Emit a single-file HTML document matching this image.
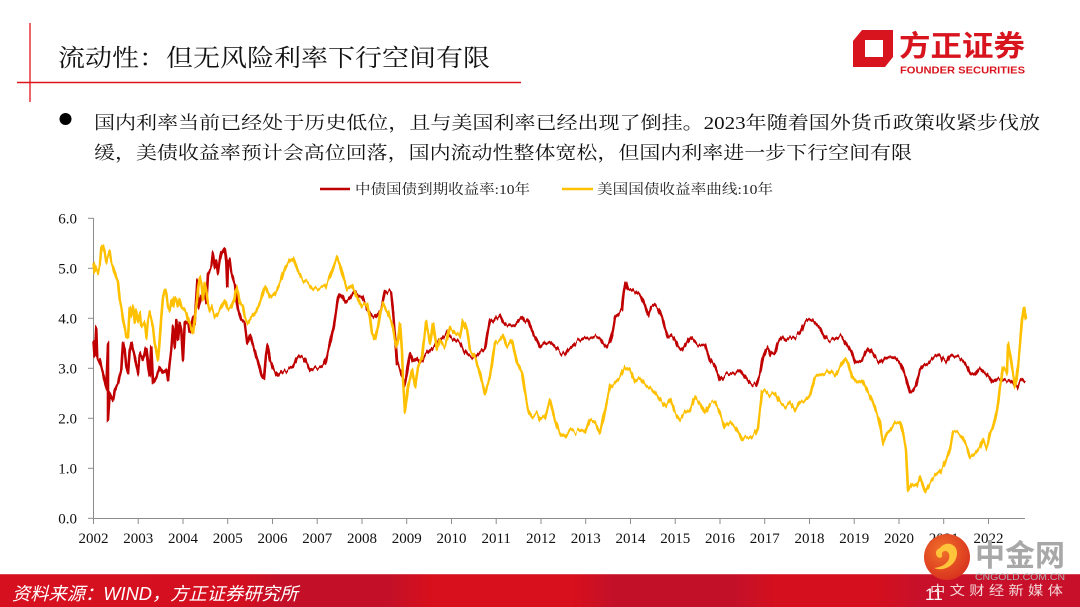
<!DOCTYPE html>
<html><head><meta charset="utf-8">
<style>
html,body{margin:0;padding:0;background:#fff;}
body{width:1080px;height:607px;overflow:hidden;}
svg{display:block;}
.cjk{font-family:"Liberation Serif","Noto Serif CJK SC","Noto Sans CJK SC",serif;}
.num{font-family:"Liberation Serif",serif;}
.sans{font-family:"Liberation Sans","Noto Sans CJK SC",sans-serif;}
</style></head>
<body>
<svg width="1080" height="607" viewBox="0 0 1080 607" xmlns="http://www.w3.org/2000/svg">
<defs>
<linearGradient id="foot" x1="0" y1="0" x2="1080" y2="0" gradientUnits="userSpaceOnUse">
<stop offset="0" stop-color="#d6101f"/>
<stop offset="0.22" stop-color="#d40f1f"/>
<stop offset="0.26" stop-color="#c31028"/>
<stop offset="0.36" stop-color="#c31028"/>
<stop offset="0.40" stop-color="#d80f1c"/>
<stop offset="0.53" stop-color="#d80f1c"/>
<stop offset="0.57" stop-color="#c21029"/>
<stop offset="0.68" stop-color="#c31029"/>
<stop offset="0.72" stop-color="#d50f1d"/>
<stop offset="0.81" stop-color="#d50f1d"/>
<stop offset="0.85" stop-color="#c8102a"/>
<stop offset="1" stop-color="#c8102a"/>
</linearGradient>
<radialGradient id="cg" cx="0.4" cy="0.35" r="0.7">
<stop offset="0" stop-color="#f0702a"/>
<stop offset="1" stop-color="#d8301e"/>
</radialGradient>
<filter id="jit" filterUnits="userSpaceOnUse" x="85" y="200" width="950" height="320" color-interpolation-filters="sRGB">
<feTurbulence type="fractalNoise" baseFrequency="0.35 0.003" numOctaves="2" seed="7" result="t"/>
<feColorMatrix in="t" type="matrix" values="0 0 0 0 0.5  0 1 0 0 0  0 0 0 0 0.5  0 0 0 0 1" result="m"/>
<feDisplacementMap in="SourceGraphic" in2="m" scale="9" xChannelSelector="R" yChannelSelector="G"/>
</filter>
</defs>

<!-- header lines -->
<line x1="30" y1="23" x2="30" y2="102" stroke="#e5333b" stroke-width="1.5"/>
<line x1="17" y1="82.5" x2="521" y2="82.5" stroke="#e0141e" stroke-width="1.5"/>
<text class="cjk" x="58" y="66" font-size="24" fill="#111" textLength="432" lengthAdjust="spacingAndGlyphs">流动性：但无风险利率下行空间有限</text>

<!-- logo -->
<path fill="#d8141e" fill-rule="evenodd" d="M862,30 L893,30 L893,57 L885,67 L853,67 L853,41 Z M865,40 L883,40 L883,57 L865,57 Z"/>
<text class="sans" x="899" y="56" font-size="29" font-weight="bold" fill="#d8141e" textLength="126" lengthAdjust="spacingAndGlyphs">方正证券</text>
<text class="sans" x="900" y="73.5" font-size="10.5" font-weight="bold" fill="#d8141e" textLength="125" lengthAdjust="spacingAndGlyphs">FOUNDER SECURITIES</text>

<!-- bullet text -->
<circle cx="65.5" cy="119" r="6" fill="#000"/>
<text class="cjk" x="94" y="129" font-size="18" fill="#111" textLength="946" lengthAdjust="spacingAndGlyphs">国内利率当前已经处于历史低位，且与美国利率已经出现了倒挂。2023年随着国外货币政策收紧步伐放</text>
<text class="cjk" x="94" y="159" font-size="18" fill="#111" textLength="818" lengthAdjust="spacingAndGlyphs">缓，美债收益率预计会高位回落，国内流动性整体宽松，但国内利率进一步下行空间有限</text>

<!-- legend -->
<line x1="320" y1="189" x2="350" y2="189" stroke="#c00000" stroke-width="2.5"/>
<text class="cjk" x="355" y="194" font-size="14" fill="#222" textLength="175" lengthAdjust="spacingAndGlyphs">中债国债到期收益率:10年</text>
<line x1="562" y1="189" x2="593" y2="189" stroke="#ffc000" stroke-width="2.5"/>
<text class="cjk" x="597" y="194" font-size="14" fill="#222" textLength="176" lengthAdjust="spacingAndGlyphs">美国国债收益率曲线:10年</text>

<!-- axes -->
<g stroke="#8c8c8c" stroke-width="1" fill="none">
<line x1="93.5" y1="218" x2="93.5" y2="518.5"/>
<line x1="93.5" y1="518.5" x2="1025" y2="518.5"/>
<line x1="88" y1="218.3" x2="93.5" y2="218.3"/>
<line x1="88" y1="268.3" x2="93.5" y2="268.3"/>
<line x1="88" y1="318.3" x2="93.5" y2="318.3"/>
<line x1="88" y1="368.3" x2="93.5" y2="368.3"/>
<line x1="88" y1="418.3" x2="93.5" y2="418.3"/>
<line x1="88" y1="468.3" x2="93.5" y2="468.3"/>
<line x1="88" y1="518.3" x2="93.5" y2="518.3"/>
<line x1="93.5" y1="518.5" x2="93.5" y2="524"/>
<line x1="138.2" y1="518.5" x2="138.2" y2="524"/>
<line x1="183" y1="518.5" x2="183" y2="524"/>
<line x1="227.7" y1="518.5" x2="227.7" y2="524"/>
<line x1="272.5" y1="518.5" x2="272.5" y2="524"/>
<line x1="317.2" y1="518.5" x2="317.2" y2="524"/>
<line x1="362" y1="518.5" x2="362" y2="524"/>
<line x1="406.7" y1="518.5" x2="406.7" y2="524"/>
<line x1="451.5" y1="518.5" x2="451.5" y2="524"/>
<line x1="496.2" y1="518.5" x2="496.2" y2="524"/>
<line x1="541" y1="518.5" x2="541" y2="524"/>
<line x1="585.7" y1="518.5" x2="585.7" y2="524"/>
<line x1="630.5" y1="518.5" x2="630.5" y2="524"/>
<line x1="675.2" y1="518.5" x2="675.2" y2="524"/>
<line x1="720" y1="518.5" x2="720" y2="524"/>
<line x1="764.7" y1="518.5" x2="764.7" y2="524"/>
<line x1="809.5" y1="518.5" x2="809.5" y2="524"/>
<line x1="854.2" y1="518.5" x2="854.2" y2="524"/>
<line x1="899" y1="518.5" x2="899" y2="524"/>
<line x1="943.7" y1="518.5" x2="943.7" y2="524"/>
<line x1="988.5" y1="518.5" x2="988.5" y2="524"/>
</g>
<g class="num" font-size="15" fill="#111" text-anchor="end">
<text x="77" y="223.5">6.0</text>
<text x="77" y="273.5">5.0</text>
<text x="77" y="323.5">4.0</text>
<text x="77" y="373.5">3.0</text>
<text x="77" y="423.5">2.0</text>
<text x="77" y="473.5">1.0</text>
<text x="77" y="523.5">0.0</text>
</g>
<g class="num" font-size="15" fill="#111" text-anchor="middle">
<text x="93.5" y="543">2002</text>
<text x="138.2" y="543">2003</text>
<text x="183" y="543">2004</text>
<text x="227.7" y="543">2005</text>
<text x="272.5" y="543">2006</text>
<text x="317.2" y="543">2007</text>
<text x="362" y="543">2008</text>
<text x="406.7" y="543">2009</text>
<text x="451.5" y="543">2010</text>
<text x="496.2" y="543">2011</text>
<text x="541" y="543">2012</text>
<text x="585.7" y="543">2013</text>
<text x="630.5" y="543">2014</text>
<text x="675.2" y="543">2015</text>
<text x="720" y="543">2016</text>
<text x="764.7" y="543">2017</text>
<text x="809.5" y="543">2018</text>
<text x="854.2" y="543">2019</text>
<text x="899" y="543">2020</text>
<text x="943.7" y="543">2021</text>
<text x="988.5" y="543">2022</text>
</g>

<g filter="url(#jit)">
<!-- red series -->
<polyline fill="none" stroke="#c00000" stroke-width="2.6" stroke-linejoin="round" points="93.5,340 94.7,357 96.3,328 97.3,357 99.7,360 103,373 106.3,387 108,343 108,420 109.7,393 113,400 114.7,390 118,383 121.3,370 123,343 124.7,350 126.3,367 128,373 129.7,350 131.3,343 134.7,357 138,373 139.7,353 143,360 146.3,347 148,363 149.7,377 151.3,347 153,383 156.3,377 159.7,367 163,373 166.3,370 168,380 169.7,363 171.3,350 173,327 174.7,347 176.3,320 178,340 179.7,323 181.3,330 183,360 184.7,323 188,320 189.7,333 193,317 194.7,323 197.3,280 198.7,307 201.3,297 204.7,290 206.3,303 208,273 211.3,267 213,253 214.7,267 216.3,260 218,273 219.7,260 221.3,253 223,250 224.7,247 226.3,260 227.3,287 228,263 229.7,260 231.3,273 234.7,283 238,310 241.3,320 244.7,323 247.3,343 250,335 253,345 256,355 259,365 262,377 264,378 266,355 267.5,345 270,360 273,368 276,373 278,376 282,372 287,370 293,367 297,358 300,356 303,357 306,362 310,370 315,368 320,367 323,366 326,360 330,343 334,325 338,298 340,294 343,298 345,303 348,300 350,298 353,293 355,291 358,296 362,297 367,308 371,315 375,318 378,314 381,310 383,300 385,291 388,293 391,292 393,310 395,335 397,363 400,370 403,378 405,385 407,372 410,353 413,362 417,358 420,363 425,355 430,350 435,345 440,340 444,336 447,333 451,337 455,340 460,343 464,350 468,355 472,357 475,357 480,352 485,348 488,330 490,320 493,322 496,318 500,315 503,322 506,325 510,326 515,325 519,320 522,317 525,322 528,320 531,328 534,335 537,340 540,347 545,343 550,342 555,347 560,352 565,355 568,350 572,347 576,342 580,340 585,338 590,338 595,337 600,338 603,343 607,347 610,342 613,330 615,317 618,315 622,310 624,290 626,283 628,290 632,289 636,292 640,295 644,303 648,315 651,307 655,305 658,308 662,317 665,328 668,337 671,335 675,340 678,347 682,350 686,344 690,337 693,340 697,344 700,345 705,345 710,360 715,367 720,380 725,375 730,374 735,373 740,370 745,377 750,383 756,385 760,374 763,358 766,350 768,347 771,355 775,353 778,342 782,337 785,340 790,338 795,337 800,333 803,326 805,322 808,320 812,320 816,324 820,328 823,334 825,337 828,340 832,340 836,338 840,336 842,337 845,342 849,348 852,353 855,363 858,362 862,360 866,352 869,348 872,352 875,357 878,360 881,363 885,358 888,357 892,357 895,358 900,363 903,370 906,378 908,385 910,392 913,390 916,385 920,370 924,365 928,363 932,359 935,357 940,355 943,360 946,362 950,355 955,357 958,357 962,360 965,363 968,368 970,373 973,374 975,375 978,370 980,368 983,371 986,373 990,378 992,382 995,380 998,378 1002,379 1005,380 1009,381 1012,383 1015,386 1017,387 1020,381 1022,380 1025,383"/>

<!-- yellow series -->
<polyline fill="none" stroke="#ffc000" stroke-width="2.6" stroke-linejoin="round" points="93.5,262 94.7,273 96.3,268 98,273 99.7,267 101.3,250 103,247 104.7,253 106.3,263 108,257 109.7,253 111.3,263 113,267 114.7,273 118,283 119.7,300 121.3,307 123,320 124.7,327 126.3,337 128,337 129.7,307 131.3,317 133,307 134.7,323 136.3,310 138,320 139.7,313 141.3,327 144.7,323 146.3,337 148,320 149.7,313 151.3,320 153,327 154.7,343 156.3,350 158,360 159.7,340 161.3,317 163,297 164.7,290 166.3,293 168,307 169.7,310 171.3,300 173,307 174.7,297 176.3,300 178,307 179.7,300 181.3,307 184.7,310 186.3,313 188,320 189.7,323 191.3,330 193,333 194.7,320 198,290 199.7,277 201.3,283 203,300 204.7,283 206.3,290 208,303 209.7,310 211.3,307 214.7,317 218,313 221.3,307 224.7,300 228,310 231.3,307 234.7,297 236.3,287 238,293 239.7,303 243,307 244.7,317 248,323 251,318 255,313 260,303 265,287 270,298 275,293 280,283 285,268 290,260 293,258 298,272 303,280 308,283 312,288 315,290 320,288 325,287 330,277 334,265 337,257 340,265 342,273 347,290 352,285 357,297 362,307 367,303 370,318 372,333 375,340 378,327 380,313 383,303 386,310 388,313 391,322 393,327 395,340 397,347 399,335 400,323 402,350 403,380 405,412 408,387 412,370 415,387 418,367 422,357 426,322 430,343 433,323 437,350 440,340 445,347 450,327 455,333 460,337 463,320 467,330 470,350 475,357 480,373 485,393 490,377 495,343 500,340 503,335 507,347 512,340 517,363 522,373 525,393 528,410 532,417 537,413 540,420 545,417 550,400 555,420 560,433 565,437 570,430 575,433 580,430 585,433 590,420 595,423 600,433 605,410 610,387 615,382 620,377 625,367 630,370 635,382 640,378 645,385 650,388 655,393 660,400 665,407 670,400 675,413 680,420 685,413 690,410 695,397 700,403 705,413 710,403 715,403 720,413 725,427 730,422 735,427 740,435 742,440 745,437 750,438 755,433 758,427 762,393 765,390 770,395 775,393 780,403 785,407 790,402 795,410 800,402 805,400 810,395 815,377 820,375 825,373 830,370 835,375 840,367 845,358 848,363 852,377 857,383 862,380 867,390 872,400 877,413 880,423 883,443 887,433 890,430 895,423 900,422 903,433 906,450 908,490 912,483 917,485 920,477 925,492 930,483 935,477 940,473 945,463 950,450 953,433 957,433 962,437 967,447 970,457 975,453 980,447 983,438 987,447 990,433 993,427 997,410 1000,387 1003,367 1007,373 1008,343 1012,367 1015,387 1018,367 1022,320 1024,307 1026,320"/>
</g>

<!-- footer -->
<rect x="0" y="574" width="1080" height="33" fill="url(#foot)"/>
<line x1="0" y1="574.5" x2="1080" y2="574.5" stroke="#e87a80" stroke-width="1" opacity="0.5"/>
<text class="sans" x="12" y="600" font-size="18" font-style="italic" font-weight="normal" fill="#fff" textLength="286" lengthAdjust="spacingAndGlyphs">资料来源：WIND，方正证券研究所</text>

<!-- watermark -->
<circle cx="947" cy="557" r="23" fill="url(#cg)"/>
<path d="M940,548 C946,540 958,544 957,554 C956,566 943,572 934,568 C944,567 951,561 949,554 C947,549 941,551 942,555 C943,559 936,559 936,553 C936,550 938,549 940,548 Z" fill="#ffc43a"/>
<text class="sans" x="975" y="566" font-size="30" font-weight="bold" fill="#a8a8a8" textLength="90" lengthAdjust="spacingAndGlyphs">中金网</text>
<text class="sans" x="975" y="580" font-size="9.5" fill="#b0b0b0" textLength="90" lengthAdjust="spacingAndGlyphs">CNGOLD.COM.CN</text>
<text class="sans" x="925" y="600" font-size="17" fill="#fff">11</text>
<text class="sans" x="930" y="595" font-size="13" fill="#f3d6d8" textLength="133" lengthAdjust="spacingAndGlyphs">中 文 财 经 新 媒 体</text>
</svg>
</body></html>
